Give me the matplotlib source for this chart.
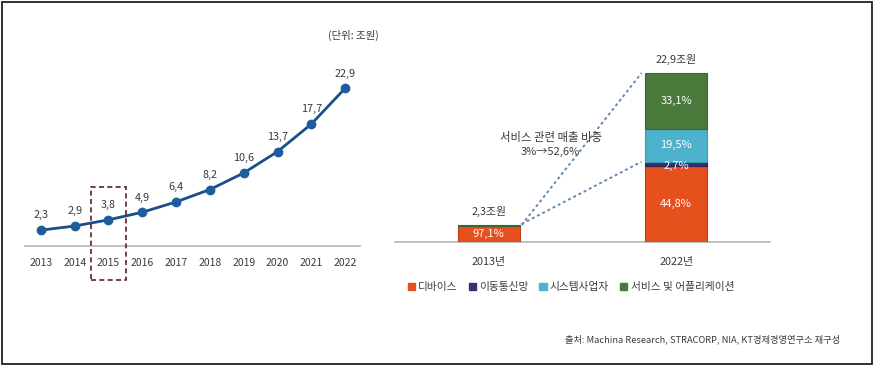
import matplotlib
matplotlib.use("Agg")
import matplotlib.pyplot as plt
from matplotlib.patches import Rectangle, Patch

plt.rcParams['font.family'] = ['Noto Sans CJK KR', 'DejaVu Sans']

# 연도별 시장 규모 (조원)
years = [2013, 2014, 2015, 2016, 2017, 2018, 2019, 2020, 2021, 2022]
market = [2.3, 2.9, 3.8, 4.9, 6.4, 8.2, 10.6, 13.7, 17.7, 22.9]
market_labels = ['2,3', '2,9', '3,8', '4,9', '6,4', '8,2', '10,6', '13,7', '17,7', '22,9']

# 2013년 / 2022년 구성비 (%)
bar_years = ['2013년', '2022년']
bar_totals = [2.3, 22.9]
total_labels = ['2,3조원', '22,9조원']
segments = ['디바이스', '이동통신망', '시스템사업자', '서비스 및 어플리케이션']
share_2013 = [97.1, 0.0, 0.0, 2.9]
share_2022 = [44.8, 2.7, 19.5, 33.1]
share_labels_2013 = ['97,1%', '', '', '']
share_labels_2022 = ['44,8%', '2,7%', '19,5%', '33,1%']

seg_colors = ['#e6501d', '#3b2e6c', '#4eb2cd', '#4a793b']
seg_edges = ['#c43a17', '#2c2254', '#3c9ab5', '#3b6630']
txt = '#3a3a3a'

fig = plt.figure(figsize=(8.76, 3.68), dpi=100)

# 바깥 테두리
fig.patches.append(Rectangle((2 / 876, 1 - 364 / 368), 870 / 876, 362 / 368,
                             transform=fig.transFigure, fill=False,
                             edgecolor='#222222', linewidth=1.3))

# ---- 왼쪽: 선 그래프
ax1 = fig.add_axes([25 / 876, 1 - 246 / 368, 335 / 876, 186 / 368])
ax1.plot(years, market, color='#1b4f8a', linewidth=2, marker='o',
         markersize=6, markerfacecolor='#1f5c9e', markeredgecolor='#1f5c9e')
for x, y, t in zip(years, market, market_labels):
    ax1.annotate(t, (x, y), xytext=(0, 7), textcoords='offset points',
                 ha='center', va='bottom', fontsize=7.8, color=txt)
ax1.set_xlim(2013 - 0.47, 2022 + 0.44)
ax1.set_ylim(0, 27)
ax1.set_xticks(years)
ax1.set_xticklabels([str(y) for y in years], fontsize=7.5, color=txt)
ax1.tick_params(axis='x', length=0, pad=9)
ax1.set_yticks([])
for s in ['top', 'right', 'left']:
    ax1.spines[s].set_visible(False)
ax1.spines['bottom'].set_color('#b5b5b5')
ax1.spines['bottom'].set_linewidth(1.2)
ax1.add_patch(Rectangle((2015 - 0.52, -4.95), 1.04, 13.5, fill=False,
                        edgecolor='#5b1f1f', linewidth=1.2,
                        linestyle=(0, (3, 2)), clip_on=False, zorder=5))

fig.text(353 / 876, 1 - 35 / 368, '(단위: 조원)', ha='center', va='center',
         fontsize=7.5, color=txt)

# ---- 오른쪽: 누적 막대
ax2 = fig.add_axes([395 / 876, 1 - 242 / 368, 375 / 876, 187 / 368])
w = 0.33
xs = [0, 1]
for xi, total, shares, labels in zip(xs, bar_totals, [share_2013, share_2022],
                                     [share_labels_2013, share_labels_2022]):
    bottom = 0
    for k, sh in enumerate(shares):
        h = total * sh / 100
        if h <= 0:
            continue
        ax2.bar(xi, h, width=w, bottom=bottom, color=seg_colors[k],
                edgecolor=seg_edges[k], linewidth=0.8, zorder=3)
        if labels[k]:
            yc = bottom + h / 2
            if labels[k] == '2,7%':
                yc = bottom + h / 2 - 0.25
            ax2.text(xi, yc, labels[k], ha='center', va='center',
                     fontsize=8, color='white', zorder=4)
        bottom += h

for xi, total, t in zip(xs, bar_totals, total_labels):
    ax2.annotate(t, (xi, total), xytext=(0, 6), textcoords='offset points',
                 ha='center', va='bottom', fontsize=7.8, color=txt)

# 서비스 관련 비중 점선
top13 = bar_totals[0]
dev13 = bar_totals[0] * share_2013[0] / 100
top22 = bar_totals[1]
lower22 = bar_totals[1] * (share_2022[0] + share_2022[1]) / 100
ax2.plot([w / 2 + 0.01, 1 - w / 2 - 0.02], [top13, top22], color='#6688b4',
         linestyle=(0, (1.5, 1.5)), linewidth=1.4, zorder=2)
ax2.plot([w / 2 + 0.01, 1 - w / 2 - 0.02], [dev13 + 0.2, lower22],
         color='#6688b4', linestyle=(0, (1.5, 1.5)), linewidth=1.4, zorder=2)
ax2.text(0.33, 14.1, '서비스 관련 매출 비중', ha='center', va='center',
         fontsize=8.2, color=txt)
ax2.text(0.33, 12.2, '3%→52,6%', ha='center', va='center',
         fontsize=8, color=txt)

ax2.set_xlim(-0.5, 1.5)
ax2.set_ylim(0, 25.34)
ax2.set_xticks(xs)
ax2.set_xticklabels(bar_years, fontsize=7.8, color=txt)
ax2.tick_params(axis='x', length=0, pad=11)
ax2.set_yticks([])
for s in ['top', 'right', 'left']:
    ax2.spines[s].set_visible(False)
ax2.spines['bottom'].set_color('#b5b5b5')
ax2.spines['bottom'].set_linewidth(1.2)

handles = [Patch(facecolor=c, edgecolor=c) for c in seg_colors]
fig.legend(handles, segments, loc='center left',
           bbox_to_anchor=(398 / 876, 1 - 287 / 368), ncol=4, frameon=False,
           handlelength=0.7, handleheight=0.7, handletextpad=0.3,
           columnspacing=1.0, fontsize=7.7, labelcolor=txt)

fig.text(840 / 876, 1 - 339 / 368,
         '출처: Machina Research, STRACORP, NIA, KT경제경영연구소 재구성',
         ha='right', va='center', fontsize=6.7, color=txt)

fig.savefig('out.png', dpi=100)
